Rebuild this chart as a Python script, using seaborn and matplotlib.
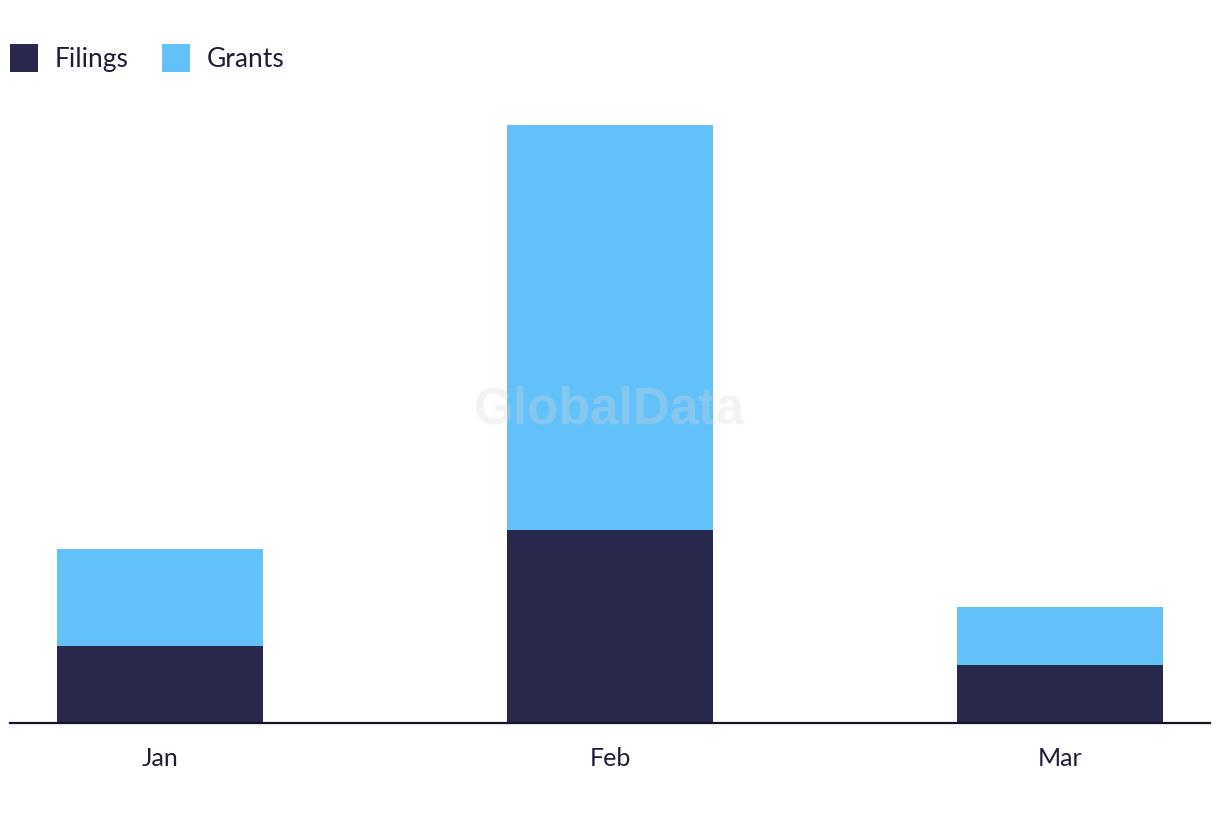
import matplotlib
matplotlib.use("Agg")
import matplotlib.pyplot as plt
from matplotlib.patches import Patch
import seaborn as sns
import pandas as pd

months = ["Jan", "Feb", "Mar"]
filings = [8, 20, 6]
grants = [10, 42, 6]

DARK = "#27284C"
LIGHT = "#62C1F9"
TEXT = "#1E1E36"

sns.set_theme(style="white")
plt.rcParams["font.family"] = ["Lato", "DejaVu Sans"]

df = pd.DataFrame({"month": months, "filings": filings, "grants": grants})
df["total"] = df["filings"] + df["grants"]

fig = plt.figure(figsize=(12.2, 8.22), dpi=100)
ax = fig.add_axes([10 / 1220, 99 / 822, 1200 / 1220, 623 / 822])

sns.barplot(data=df, x="month", y="total", color=LIGHT, width=0.458,
            saturation=1, ax=ax, linewidth=0)
sns.barplot(data=df, x="month", y="filings", color=DARK, width=0.458,
            saturation=1, ax=ax, linewidth=0)

ax.set_xlim(-0.333, 2.333)
ax.set_ylim(0, 64.6)
ax.set_xlabel("")
ax.set_ylabel("")
ax.set_yticks([])
for s in ["top", "right", "left"]:
    ax.spines[s].set_visible(False)
ax.spines["bottom"].set_color("#15152a")
ax.spines["bottom"].set_linewidth(1.6)
ax.tick_params(axis="x", length=0, pad=17, labelsize=18, labelcolor=TEXT)

ax.text(0.5, 1 - 410 / 822, "GlobalData", transform=fig.transFigure, ha="center",
        va="center", fontsize=37, fontweight="bold", color="#d8d8d8",
        alpha=0.3, family=["Liberation Sans", "DejaVu Sans"], zorder=5)

handles = [Patch(facecolor=DARK, edgecolor="none", label="Filings"),
           Patch(facecolor=LIGHT, edgecolor="none", label="Grants")]
fig.legend(handles=handles, loc="upper left", bbox_to_anchor=(10 / 1220, 1 - 44 / 822),
           ncol=2, frameon=False, fontsize=19, handlelength=1.06, handleheight=1.25,
           handletextpad=0.64, columnspacing=1.25, borderpad=0, borderaxespad=0,
           labelcolor=TEXT)

fig.savefig("out.png", dpi=100, facecolor="white")
